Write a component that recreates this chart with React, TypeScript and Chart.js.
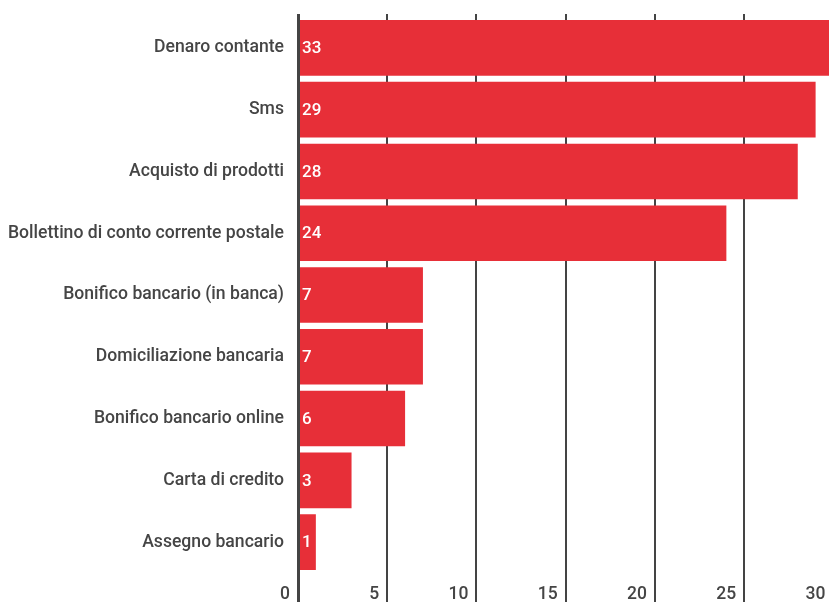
import React, { useEffect, useRef } from "react";
import { Chart, registerables } from "chart.js";

Chart.register(...registerables);

const categories = [
  "Denaro contante",
  "Sms",
  "Acquisto di prodotti",
  "Bollettino di conto corrente postale",
  "Bonifico bancario (in banca)",
  "Domiciliazione bancaria",
  "Bonifico bancario online",
  "Carta di credito",
  "Assegno bancario",
];
const values = [33, 29, 28, 24, 7, 7, 6, 3, 1];
const xTicks = [0, 5, 10, 15, 20, 25, 30];

const BAR_COLOR = "#e72f38";
const TEXT_COLOR = "#454545";
const GRID_COLOR = "#444444";
const FONT = "Roboto";

const gridPlugin = {
  id: "customGrid",
  beforeDatasetsDraw(chart: any) {
    const { ctx, chartArea, scales } = chart;
    const x = scales.x;
    ctx.save();
    ctx.strokeStyle = GRID_COLOR;
    ctx.lineWidth = 2;
    x.ticks.forEach((t: any) => {
      if (t.value === 0) return;
      const px = Math.round(x.getPixelForValue(t.value));
      ctx.beginPath();
      ctx.moveTo(px, chartArea.top - 3);
      ctx.lineTo(px, chart.height);
      ctx.stroke();
    });
    ctx.restore();
  },
  afterDatasetsDraw(chart: any) {
    const { ctx, chartArea, scales } = chart;
    const x = scales.x;
    const px = Math.round(x.getPixelForValue(0));
    ctx.save();
    ctx.strokeStyle = GRID_COLOR;
    ctx.lineWidth = 3;
    ctx.beginPath();
    ctx.moveTo(px + 0.5, chartArea.top - 3);
    ctx.lineTo(px + 0.5, chart.height);
    ctx.stroke();

    const meta = chart.getDatasetMeta(0);
    ctx.fillStyle = "#ffffff";
    ctx.font = `500 17px ${FONT}`;
    ctx.textAlign = "left";
    ctx.textBaseline = "middle";
    meta.data.forEach((bar: any, i: number) => {
      ctx.fillText(String(values[i]), bar.base + 4, bar.y + 1);
    });
    ctx.restore();
  },
};

export default function App() {
  const ref = useRef<HTMLCanvasElement>(null);
  useEffect(() => {
    if (!ref.current) return;
    const chart = new Chart(ref.current, {
      type: "bar",
      data: {
        labels: categories,
        datasets: [
          {
            data: values,
            backgroundColor: BAR_COLOR,
            borderWidth: 0,
            barPercentage: 0.9,
            categoryPercentage: 1,
          },
        ],
      },
      options: {
        indexAxis: "y",
        responsive: false,
        animation: false,
        devicePixelRatio: 1,
        layout: { padding: { top: 17, right: 0, bottom: 0, left: 0 } },
        plugins: {
          legend: { display: false },
          tooltip: { enabled: false },
        },
        scales: {
          x: {
            min: 0,
            max: 33,
            grid: { display: false, drawTicks: false },
            border: { display: false },
            afterBuildTicks: (scale: any) => {
              scale.ticks = xTicks.map((v) => ({ value: v }));
            },
            afterFit: (scale: any) => {
              scale.height = 29;
              scale.paddingLeft = 0;
              scale.paddingRight = 0;
            },
            ticks: {
              align: "end",
              labelOffset: -8,
              padding: 11,
              color: TEXT_COLOR,
              font: { family: FONT, size: 17.5, weight: "500" },
              maxRotation: 0,
            },
          },
          y: {
            grid: { display: false, drawTicks: false },
            border: { display: false },
            afterFit: (scale: any) => {
              scale.width = 298;
              scale.paddingTop = 0;
              scale.paddingBottom = 0;
            },
            ticks: {
              padding: 14,
              color: TEXT_COLOR,
              font: { family: FONT, size: 17.6, weight: "500" },
            },
          },
        },
      },
      plugins: [gridPlugin],
    });
    return () => chart.destroy();
  }, []);

  return (
    <div
      style={{
        position: "fixed",
        left: 0,
        top: 0,
        width: 829,
        height: 602,
        overflow: "hidden",
        background: "#fff",
      }}
    >
      <canvas ref={ref} width={887} height={602} style={{ display: "block" }} />
    </div>
  );
}
